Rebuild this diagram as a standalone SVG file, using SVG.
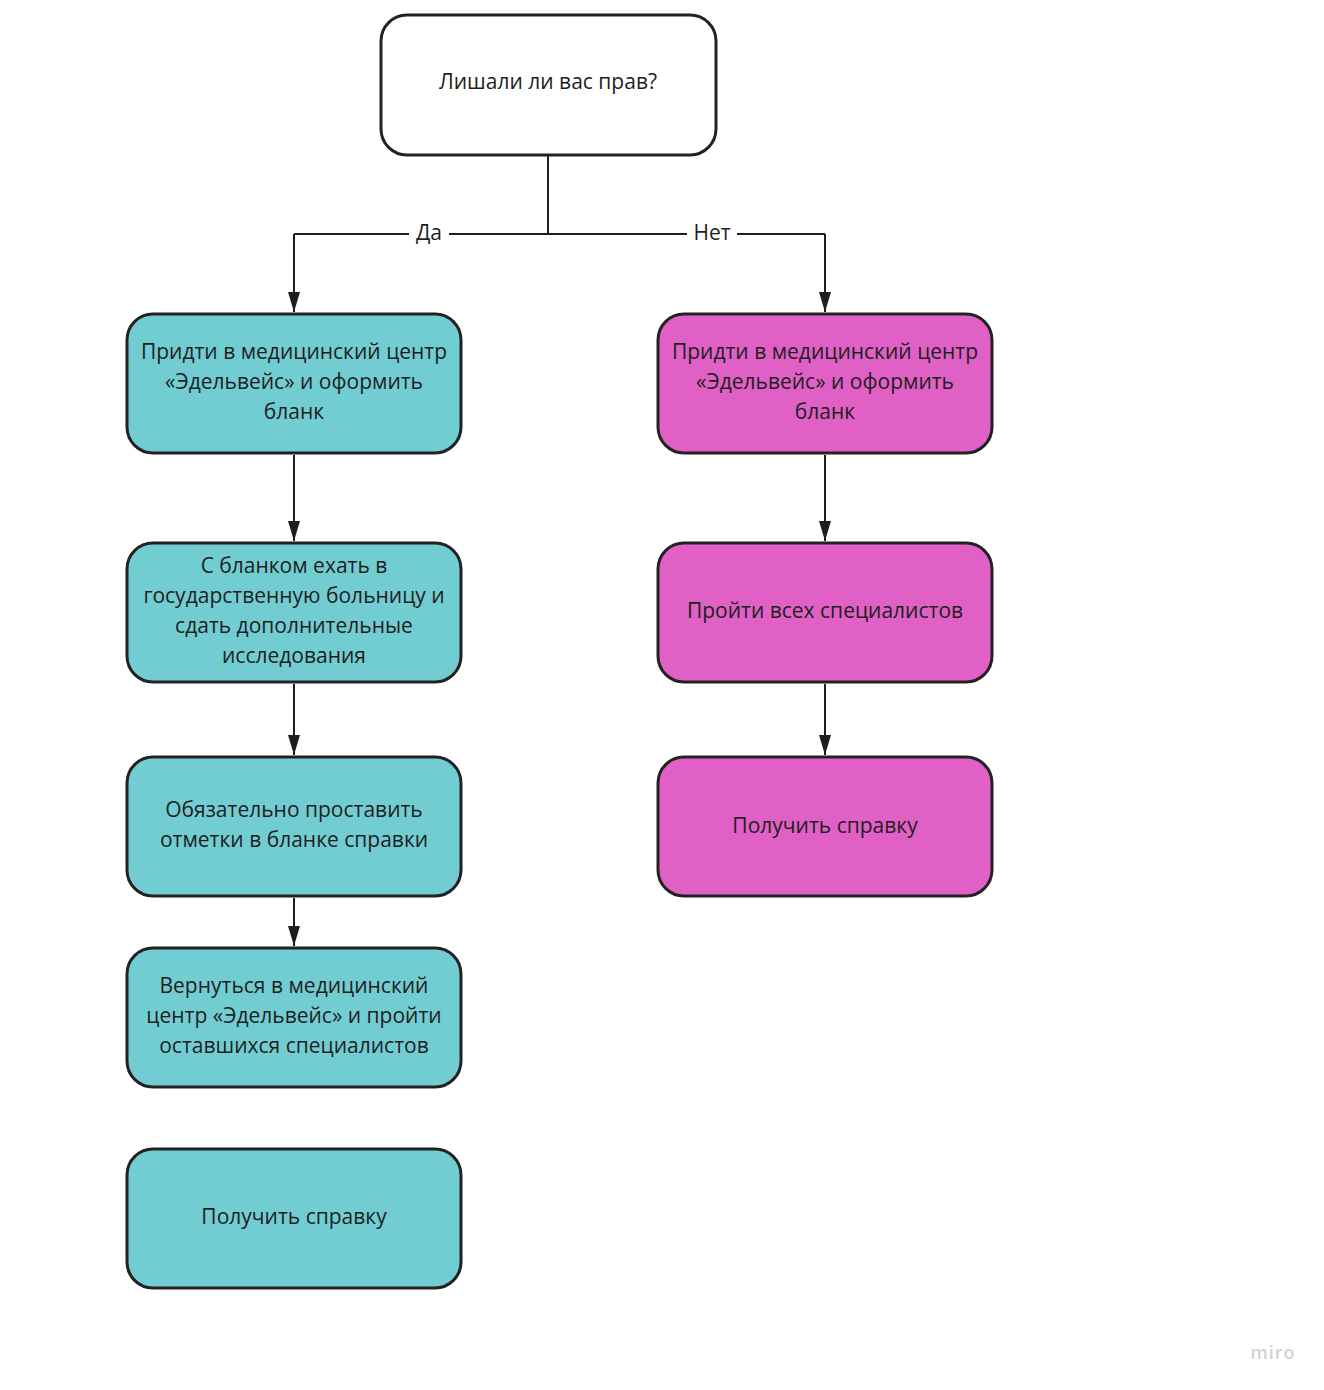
<svg xmlns="http://www.w3.org/2000/svg" width="1324" height="1390" viewBox="0 0 1324 1390">
<defs>
<style>
.n{stroke:#222;stroke-width:3}
.w{fill:#fff}
.t{fill:#72cdd2}
.m{fill:#e060c5}
text{font-family:"Open Sans","Noto Sans",sans-serif;font-size:21px;fill:#1e1e1e;text-anchor:middle}
.c{fill:none;stroke:#1e1e1e;stroke-width:2}
.lbl{font-size:21px}
</style>
<marker id="ah2" viewBox="0 0 20 12" refX="20" refY="6" markerWidth="20" markerHeight="12" markerUnits="userSpaceOnUse" orient="auto">
<path d="M0,0 L20,6 L0,12 Z" fill="#1e1e1e"/>
</marker>
</defs>
<rect width="1324" height="1390" fill="#fff"/>
<g id="connectors">
<path class="c" d="M548,156 V234 M294,234 H548 H825"/>
<path class="c" d="M294,234 V312" marker-end="url(#ah2)"/>
<path class="c" d="M825,234 V312" marker-end="url(#ah2)"/>
<path class="c" d="M294,455 V541" marker-end="url(#ah2)"/>
<path class="c" d="M294,684 V755" marker-end="url(#ah2)"/>
<path class="c" d="M294,898 V946" marker-end="url(#ah2)"/>
<path class="c" d="M825,455 V541" marker-end="url(#ah2)"/>
<path class="c" d="M825,684 V755" marker-end="url(#ah2)"/>
<rect x="409" y="220" width="40" height="28" fill="#fff"/>
<rect x="687" y="220" width="50" height="28" fill="#fff"/>
<text class="lbl" x="429" y="240">Да</text>
<text class="lbl" x="712" y="240">Нет</text>
</g>
<g id="q">
<rect class="n w" x="381" y="15" width="335" height="140" rx="26"/>
<text x="548" y="89">Лишали ли вас прав?</text>
</g>
<g id="y1">
<rect class="n t" x="127" y="314" width="334" height="139" rx="26"/>
<text x="294" y="359">Придти в медицинский центр</text>
<text x="294" y="389">«Эдельвейс» и оформить</text>
<text x="294" y="419">бланк</text>
</g>
<g id="y2">
<rect class="n t" x="127" y="543" width="334" height="139" rx="26"/>
<text x="294" y="573">С бланком ехать в</text>
<text x="294" y="603">государственную больницу и</text>
<text x="294" y="633">сдать дополнительные</text>
<text x="294" y="663">исследования</text>
</g>
<g id="y3">
<rect class="n t" x="127" y="757" width="334" height="139" rx="26"/>
<text x="294" y="817">Обязательно проставить</text>
<text x="294" y="847">отметки в бланке справки</text>
</g>
<g id="y4">
<rect class="n t" x="127" y="948" width="334" height="139" rx="26"/>
<text x="294" y="993">Вернуться в медицинский</text>
<text x="294" y="1023">центр «Эдельвейс» и пройти</text>
<text x="294" y="1053">оставшихся специалистов</text>
</g>
<g id="y5">
<rect class="n t" x="127" y="1149" width="334" height="139" rx="26"/>
<text x="294" y="1224">Получить справку</text>
</g>
<g id="n1">
<rect class="n m" x="658" y="314" width="334" height="139" rx="26"/>
<text x="825" y="359">Придти в медицинский центр</text>
<text x="825" y="389">«Эдельвейс» и оформить</text>
<text x="825" y="419">бланк</text>
</g>
<g id="n2">
<rect class="n m" x="658" y="543" width="334" height="139" rx="26"/>
<text x="825" y="618">Пройти всех специалистов</text>
</g>
<g id="n3">
<rect class="n m" x="658" y="757" width="334" height="139" rx="26"/>
<text x="825" y="833">Получить справку</text>
</g>
<text x="1273" y="1359" style="font-size:18px;fill:#d0d0d8;font-weight:600;letter-spacing:1px">miro</text>
</svg>
